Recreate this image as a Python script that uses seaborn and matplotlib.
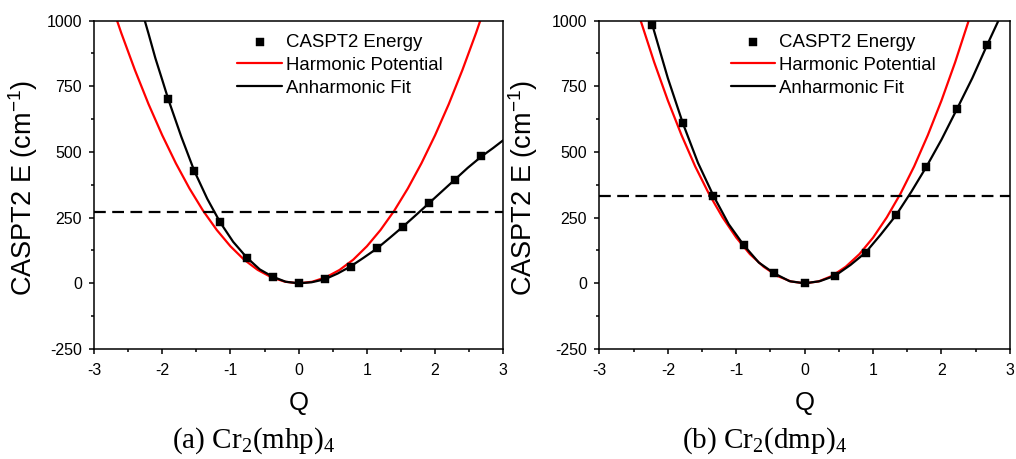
import numpy as np
import pandas as pd
import seaborn as sns
import matplotlib.pyplot as plt
from matplotlib.ticker import MultipleLocator

# --- (a) Cr2(mhp)4 ---
q_mhp = [-1.91, -1.53, -1.15, -0.76, -0.38, 0.0, 0.38, 0.76, 1.15, 1.53, 1.91, 2.29, 2.68]
e_mhp = [700, 428, 232, 98, 25, 0, 15, 64, 133, 216, 305, 395, 483]

fit_q_mhp = [-2.3, -2.2, -2.1, -2.0, -1.91, -1.72, -1.53, -1.34, -1.15, -0.96, -0.76, -0.57,
             -0.38, -0.19, 0.0, 0.19, 0.38, 0.57, 0.76, 0.95, 1.15, 1.34, 1.53, 1.72, 1.91,
             2.1, 2.29, 2.48, 2.68, 2.85, 3.0]
fit_e_mhp = [1040, 950, 857, 775, 700, 558, 428, 322, 232, 158, 98, 53,
             25, 6, 0, 4, 15, 37, 64, 97, 133, 174, 216, 260, 305,
             350, 395, 440, 483, 515, 545]

harm_q_mhp = [-2.8, -2.6, -2.4, -2.2, -2.0, -1.8, -1.6, -1.4, -1.2, -1.0, -0.8, -0.6, -0.4, -0.2, 0.0,
              0.2, 0.4, 0.6, 0.8, 1.0, 1.2, 1.4, 1.6, 1.8, 2.0, 2.2, 2.4, 2.6, 2.8]
harm_e_mhp = [1105, 953, 812, 682, 564, 457, 361, 276, 203, 141, 90, 51, 23, 6, 0,
              6, 23, 51, 90, 141, 203, 276, 361, 457, 564, 682, 812, 953, 1105]
level_mhp = 270

# --- (b) Cr2(dmp)4 ---
q_dmp = [-2.225, -1.78, -1.335, -0.89, -0.445, 0.0, 0.445, 0.89, 1.335, 1.78, 2.225, 2.67]
e_dmp = [982, 609, 334, 145, 38, 0, 29, 117, 259, 444, 663, 909]

fit_q_dmp = [-2.4, -2.225, -2.0, -1.78, -1.56, -1.335, -1.11, -0.89, -0.67, -0.445, -0.22, 0.0,
             0.22, 0.445, 0.67, 0.89, 1.11, 1.335, 1.56, 1.78, 2.0, 2.225, 2.45, 2.67, 2.85]
fit_e_dmp = [1158, 982, 781, 609, 459, 334, 225, 145, 79, 38, 8, 0,
             8, 29, 70, 117, 185, 259, 349, 444, 547, 663, 781, 909, 1010]

harm_q_dmp = [-2.6, -2.4, -2.2, -2.0, -1.8, -1.6, -1.4, -1.2, -1.0, -0.8, -0.6, -0.4, -0.2, 0.0,
              0.2, 0.4, 0.6, 0.8, 1.0, 1.2, 1.4, 1.6, 1.8, 2.0, 2.2, 2.4, 2.6]
harm_e_dmp = [1176, 1002, 842, 696, 564, 445, 341, 251, 174, 111, 63, 28, 7, 0,
              7, 28, 63, 111, 174, 251, 341, 445, 564, 696, 842, 1002, 1176]
level_dmp = 333

captions = [r"(a) Cr$_\mathrm{2}$(mhp)$_\mathrm{4}$", r"(b) Cr$_\mathrm{2}$(dmp)$_\mathrm{4}$"]

sns.set_style("ticks")
plt.rcParams['font.family'] = ['Liberation Sans', 'DejaVu Sans']
plt.rcParams['mathtext.fontset'] = 'custom'
plt.rcParams['mathtext.rm'] = 'Liberation Serif'
plt.rcParams['mathtext.sf'] = 'Liberation Sans'
plt.rcParams['axes.unicode_minus'] = False
plt.rcParams['text.color'] = 'black'
plt.rcParams['axes.labelcolor'] = 'black'
plt.rcParams['xtick.color'] = 'black'
plt.rcParams['ytick.color'] = 'black'
plt.rcParams['axes.edgecolor'] = 'black'

fig = plt.figure(figsize=(10.16, 4.59), dpi=100)
ax1 = fig.add_axes([0.0925, 0.2397, 0.4029, 0.7153])
ax2 = fig.add_axes([0.590, 0.2397, 0.404, 0.7153])

panels = [
    (ax1, q_mhp, e_mhp, fit_q_mhp, fit_e_mhp, harm_q_mhp, harm_e_mhp, level_mhp, 0.35, -0.132),
    (ax2, q_dmp, e_dmp, fit_q_dmp, fit_e_dmp, harm_q_dmp, harm_e_dmp, level_dmp, 0.32, -0.145),
]

for ax, q, e, fq, fe, hq, he, lvl, legx, ylx in panels:
    sns.lineplot(x=hq, y=he, ax=ax, color='#ff0000', lw=1.6, label='Harmonic Potential')
    sns.lineplot(x=fq, y=fe, ax=ax, color='black', lw=1.6, label='Anharmonic Fit')
    sns.scatterplot(x=q, y=e, ax=ax, marker='s', color='black', s=40, edgecolor='black',
                    linewidth=0.3, zorder=5, label='CASPT2 Energy')
    ax.axhline(lvl, color='black', lw=1.6, dashes=(5.3, 2.9))

    ax.set_xlim(-3, 3)
    ax.set_ylim(-250, 1000)
    ax.xaxis.set_major_locator(MultipleLocator(1))
    ax.xaxis.set_minor_locator(MultipleLocator(0.5))
    ax.yaxis.set_major_locator(MultipleLocator(250))
    ax.yaxis.set_minor_locator(MultipleLocator(125))
    ax.tick_params(which='major', direction='out', length=3.8, width=1.1, labelsize=11.5)
    ax.tick_params(axis='x', which='major', pad=6.5)
    ax.tick_params(axis='y', which='major', pad=5)
    ax.tick_params(which='minor', direction='out', length=2.2, width=1.1)
    for sp in ax.spines.values():
        sp.set_linewidth(1.1)
        sp.set_visible(True)

    ax.set_xlabel('Q', fontsize=18.5)
    ax.xaxis.set_label_coords(0.5, -0.128)
    ax.set_ylabel(r'CASPT2 E (cm$^{\mathsf{-1}}$)', fontsize=19.5)
    ax.yaxis.set_label_coords(ylx, 0.49)

    handles, labels = ax.get_legend_handles_labels()
    order = [2, 0, 1]
    ax.legend([handles[i] for i in order], [labels[i] for i in order],
              loc='upper left', bbox_to_anchor=(legx, 0.96), frameon=False,
              fontsize=13.4, handlelength=2.4, handletextpad=0.2,
              labelspacing=0.32, borderpad=0, borderaxespad=0)

fig.text(254 / 1016, 0.024, captions[0], fontsize=21, family='Liberation Serif',
         ha='center', va='baseline')
fig.text(764 / 1016, 0.024, captions[1], fontsize=21, family='Liberation Serif',
         ha='center', va='baseline')

fig.savefig('out.png', dpi=100)
